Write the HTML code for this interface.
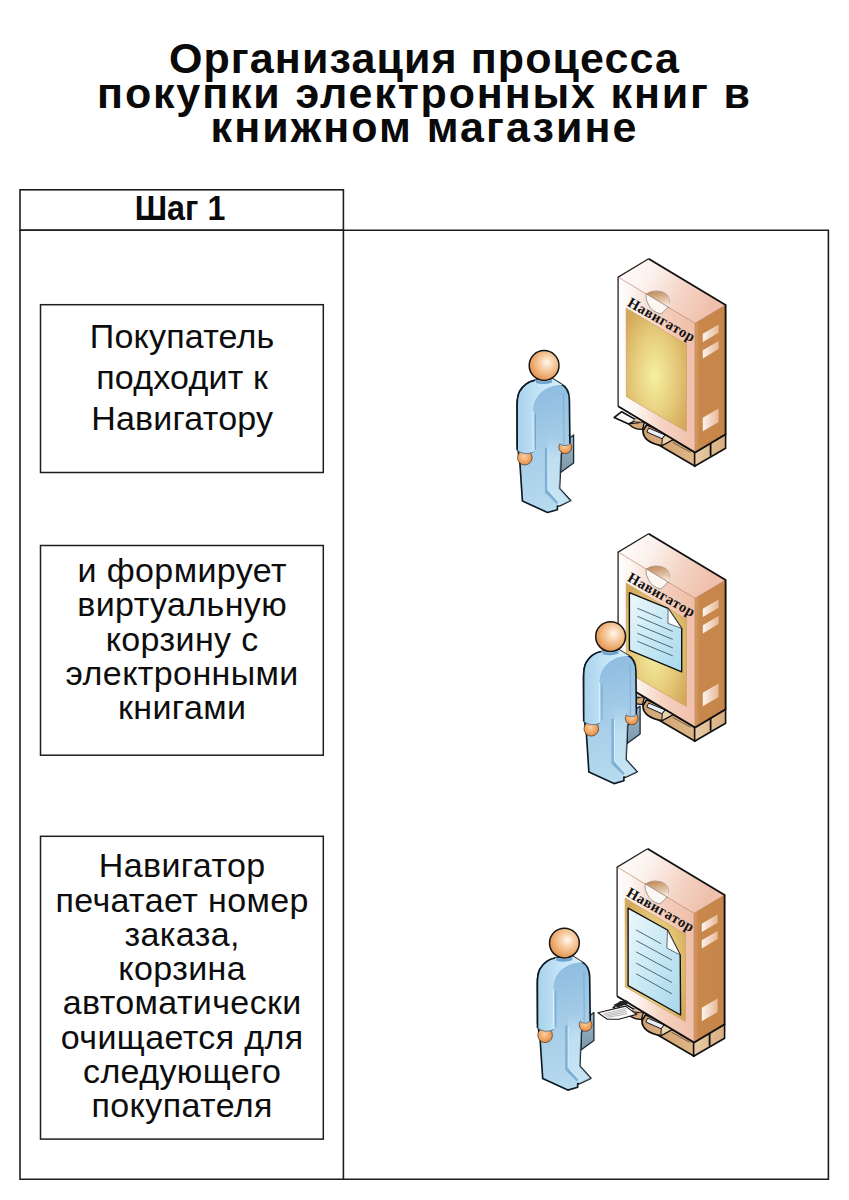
<!DOCTYPE html>
<html><head><meta charset="utf-8">
<style>
html,body{margin:0;padding:0;background:#fff;}
body{width:849px;height:1200px;position:relative;overflow:hidden;font-family:"Liberation Sans",sans-serif;color:#111;}
.t{position:absolute;left:0;width:849px;text-align:center;font-weight:bold;font-size:43px;white-space:nowrap;line-height:34px;height:34px;color:#0a0a0a;}
.bx{position:absolute;left:40.7px;top:0;width:283px;text-align:center;font-size:34px;white-space:nowrap;color:#0d0d0d;}
.bx div{position:absolute;left:0;width:283px;height:34px;line-height:34px;}
svg{position:absolute;left:0;top:0;}
</style></head><body>
<div class="t" style="top:41.4px;letter-spacing:1.1px">Организация процесса</div>
<div class="t" style="top:75.6px;letter-spacing:1.85px">покупки электронных книг в</div>
<div class="t" style="top:109.9px;letter-spacing:2.05px">книжном магазине</div>

<svg width="849" height="1200" viewBox="0 0 849 1200">
<g fill="none" stroke="#1e1e1e">
<rect x="20" y="189.8" width="323.4" height="40.4" stroke-width="1.6"/>
<path d="M20 230.2H828.4V1179.3H20Z M343.4 230.2V1179.3" stroke-width="1.6"/>
<rect x="40.5" y="304.7" width="282.8" height="167.8" stroke-width="1.5"/>
<rect x="40.5" y="545.5" width="282.8" height="209.7" stroke-width="1.5"/>
<rect x="40.5" y="836.3" width="282.8" height="302.8" stroke-width="1.5"/>
</g>
<defs>
<linearGradient id="gTop" x1="0" y1="0" x2="1" y2="0.3"><stop offset="0" stop-color="#ffffff"/><stop offset="0.35" stop-color="#fcf1ec"/><stop offset="0.7" stop-color="#f4d3c4"/><stop offset="1" stop-color="#efc0ab"/></linearGradient>
<linearGradient id="gFront" x1="0" y1="0.55" x2="1" y2="0.45"><stop offset="0" stop-color="#ffffff"/><stop offset="0.22" stop-color="#fdf5f1"/><stop offset="0.55" stop-color="#f5d2c1"/><stop offset="1" stop-color="#efbea8"/></linearGradient>
<linearGradient id="gRight" x1="0" y1="0" x2="1" y2="0"><stop offset="0" stop-color="#d69a60"/><stop offset="0.15" stop-color="#c8884c"/><stop offset="1" stop-color="#c6864a"/></linearGradient>
<linearGradient id="gWin" x1="0" y1="0" x2="1" y2="0"><stop offset="0" stop-color="#fbf4ef"/><stop offset="1" stop-color="#e8b898"/></linearGradient>
<radialGradient id="gScr" cx="0.47" cy="0.55" r="0.62"><stop offset="0" stop-color="#f4f0a0"/><stop offset="0.55" stop-color="#e6cc7c"/><stop offset="1" stop-color="#d5a95c"/></radialGradient>
<linearGradient id="gDoc" x1="0" y1="0" x2="1" y2="1"><stop offset="0" stop-color="#eef8fc"/><stop offset="0.5" stop-color="#c8e8f4"/><stop offset="1" stop-color="#a8d8ec"/></linearGradient>
<linearGradient id="gHandle" x1="0.3" y1="0" x2="0.6" y2="1"><stop offset="0" stop-color="#c08a5c"/><stop offset="0.5" stop-color="#dcb896"/><stop offset="1" stop-color="#f6ebe0"/></linearGradient>
<linearGradient id="gPal" x1="0" y1="0" x2="1" y2="0"><stop offset="0" stop-color="#cfa070"/><stop offset="1" stop-color="#e0b88a"/></linearGradient>
<linearGradient id="gPal2" x1="0" y1="0" x2="1" y2="0"><stop offset="0" stop-color="#e8cca8"/><stop offset="1" stop-color="#d7ad7e"/></linearGradient>
<linearGradient id="gBody" gradientUnits="userSpaceOnUse" x1="-20" y1="14" x2="20" y2="147"><stop offset="0" stop-color="#88b8de"/><stop offset="0.5" stop-color="#a6cde8"/><stop offset="1" stop-color="#b8dcef"/></linearGradient>
<linearGradient id="gArm" gradientUnits="userSpaceOnUse" x1="-27" y1="0" x2="17.5" y2="0"><stop offset="0" stop-color="#a8d2ec"/><stop offset="0.5" stop-color="#c4e4f6"/><stop offset="1" stop-color="#d6eef8"/></linearGradient>
<radialGradient id="gHead" cx="0.6" cy="0.4" r="0.65"><stop offset="0" stop-color="#fff8f0"/><stop offset="0.3" stop-color="#f8d6b2"/><stop offset="0.72" stop-color="#eeab6e"/><stop offset="1" stop-color="#de8c4a"/></radialGradient>
<radialGradient id="gHand" cx="0.45" cy="0.4" r="0.65"><stop offset="0" stop-color="#fbd0a4"/><stop offset="0.6" stop-color="#f0a462"/><stop offset="1" stop-color="#dd8840"/></radialGradient>
<linearGradient id="gFold" x1="0" y1="0" x2="0" y2="1"><stop offset="0" stop-color="#9fb8cc"/><stop offset="1" stop-color="#7c96aa"/></linearGradient>
<linearGradient id="gLeg" x1="0" y1="0" x2="0" y2="1"><stop offset="0" stop-color="#d2ecf8" stop-opacity="0"/><stop offset="0.35" stop-color="#d2ecf8" stop-opacity="0.5"/><stop offset="1" stop-color="#d2ecf8" stop-opacity="0.6"/></linearGradient>
</defs>
<g transform="translate(648.6,258.8)">
<polygon points="8,171 46.5,193.7 46.5,207.5 8,185" fill="url(#gPal)" stroke="#111" stroke-width="1.6" stroke-linejoin="round"/>
<polygon points="46,193.7 77,175.4 77,189.4 46,207.5" fill="url(#gPal2)" stroke="#111" stroke-width="1.6" stroke-linejoin="round"/>
<path d="M62,183.5 V197" stroke="#111" stroke-width="1.8"/>
<path d="M24,183.5 L42,193.5" stroke="#6a5040" stroke-width="0.9"/>
<polygon points="-34.4,158.7 -26.9,152.9 -12.1,161.3 -20,165.1" fill="#fbfbfb" stroke="#111" stroke-width="1.6" stroke-linejoin="round"/>
<path d="M-20,165.1 Q-14,171 -6,170.5 L-4,163 Z" fill="#d9a877" stroke="#111" stroke-width="1.4"/>
<path d="M-16,162 L-10,158 L-6,164 Z" fill="#e8c3a0" stroke="#444" stroke-width="0.6"/>
<path d="M-5.7,171.9 Q-5.5,183.5 13.3,186.8 L23.9,181 L21,176.5 L-2,166 Z" fill="url(#gPal)" stroke="#111" stroke-width="1.7" stroke-linejoin="round"/>
<polygon points="0.1,169.3 16.5,176.2 13.6,180 -1.8,173.2" fill="#e8eef8" stroke="#1a1a1a" stroke-width="1"/>
<polygon points="13.6,180 16.5,176.2 22,178.5 23.9,181 13.3,186.8" fill="#ead2aa" stroke="#111" stroke-width="1"/>
<polygon points="0,0 77,46.2 46.5,64.5 -30.5,18.3" fill="url(#gTop)"/>
<polygon points="-30.5,18.3 46.5,64.5 46.5,193.7 -30.5,147.5" fill="url(#gFront)"/>
<polygon points="46.5,64.5 77,46.2 77,175.4 46.5,193.7" fill="url(#gRight)"/>
<path d="M-30.5,18.3 L46.5,64.5 L77,46.2 M46.5,64.5 V193.7" fill="none" stroke="#b07050" stroke-width="0.7" opacity="0.8"/>
<path d="M-30.5,147.5 V18.3 L0,0" fill="none" stroke="#222" stroke-width="1.3"/>
<path d="M0,0 L77,46.2 V175.4 L46.5,193.7 L-30.5,147.5" fill="none" stroke="#111" stroke-width="1.9" stroke-linejoin="round"/>
<polygon points="54.2,75 70,65.7 70,73.9 54.2,83.2" fill="url(#gWin)"/>
<polygon points="54.2,91.4 70,82.1 70,90.3 54.2,99.6" fill="url(#gWin)"/>
<polygon points="54.2,159 70,149.7 70,163.1 54.2,172.4" fill="url(#gWin)"/>
<polygon points="-22.5,49.2 38,85.6 37.8,172.6 -22.3,138" fill="url(#gScr)" stroke="#c99a5a" stroke-width="0.6"/>
<path d="M-2.6,36.5 Q1,32 8.4,32.2 Q20,33 20.9,41.5 Q20.5,47 18,50 L12.4,55.2 Q3,53 0,46 Q-3,41 -2.6,36.5 Z" fill="#fbf8f4" stroke="#8c8278" stroke-width="0.75"/>
<path d="M-2.3,35 Q1,32.2 8.4,32.4 Q19.8,33 20.7,41.5 L20.6,48.9 Z" fill="url(#gHandle)"/>
<path d="M-3,34.7 L20.9,49" stroke="#857468" stroke-width="0.7"/>
<text x="0" y="0" transform="translate(-22.2,46.6) rotate(29.5)" font-family="Liberation Serif" font-weight="bold" font-size="14.6" fill="#111" letter-spacing="0.5">Навигатор</text>
</g>
<g transform="translate(544.1,365.5)">
<polygon points="16.5,79.5 29.5,69.5 29.5,97.5 16.5,107" fill="url(#gFold)" stroke="#1a2a35" stroke-width="1.3" stroke-linejoin="round"/>
<path d="M-9.4,14.9 C-15,16 -21,20 -24.5,26 C-26.5,30 -27,34 -27,40 L-26.8,80 L-24.2,97.6 L-21.7,135.5 L3.4,147 L13.3,144.2 L13.3,140.5 L15.4,140.5 L26.5,135.1 L15.4,123 L17,89.3 L25.7,68.9 L25.3,34.2 C25.2,27 22,21 17,18.5 L8.4,13.2 Z" fill="url(#gBody)" stroke="#0c1a26" stroke-width="1.65" stroke-linejoin="round"/>
<path d="M19.5,28 L19.8,72" stroke="#7aa8cc" stroke-width="0.8" fill="none"/>
<path d="M3.8,70 L19,70 L17,89.3 L15.4,123 L26.2,135.2 L15.2,140.3 L12.5,138.5 L3.8,126 Z" fill="url(#gLeg)"/>
<path d="M0.8,82.5 L3.8,82.5 L3.8,124.5 L14.5,136.5 L12.5,138.5 L0.8,127 Z" fill="#7fb0d6"/>
<path d="M3.8,83 L3.8,124.5 L14.5,136.5" stroke="#d8f0fa" stroke-width="1" fill="none"/>
<circle cx="-19.3" cy="92.2" r="7.3" fill="url(#gHand)" stroke="#4a3020" stroke-width="0.7"/>
<circle cx="21.2" cy="81.8" r="6.4" fill="url(#gHand)" stroke="#4a3020" stroke-width="0.7"/>
<path d="M-24.5,26 C-21,20 -15,16 -9.4,14.9 L8.4,13.2 L18.5,19.5 C3,19 -11,29 -11,46 L-11,86.5 Q-19,90.5 -26.9,85 L-27,40 C-27,34 -26.5,30 -24.5,26 Z" fill="url(#gArm)"/>
<path d="M-9.4,14.9 C-15,16 -21,20 -24.5,26 C-26.5,30 -27,34 -27,40 L-26.9,85" fill="none" stroke="#0c1a26" stroke-width="1.65" stroke-linejoin="round"/>
<path d="M-26.9,85 Q-19,90.5 -10.5,86.5" fill="none" stroke="#4a6a80" stroke-width="0.8"/>
<path d="M-11,46 L-11,86" stroke="#d6f0fa" stroke-width="1.2" fill="none"/>
<path d="M-8.6,48 L-8.6,84" stroke="#6e9ec4" stroke-width="0.8" fill="none"/>
<path d="M15.8,70 L15.8,78.5 Q21,82 25.8,78 L25.8,70 Z" fill="url(#gBody)"/>
<path d="M15.8,78.5 Q21,82 25.8,78" fill="none" stroke="#4a6a80" stroke-width="0.8"/>
<path d="M25.7,68.9 L25.8,78" fill="none" stroke="#0c1a26" stroke-width="1.65"/>
<path d="M19.8,70 L19.8,79" stroke="#7aa8cc" stroke-width="0.8" fill="none"/>
<circle cx="0" cy="0" r="14.9" fill="url(#gHead)" stroke="#161616" stroke-width="1.5"/>
<path d="M-8.3,14.6 Q0,17.5 8.1,14.2 L7.8,17.2 Q0,19.8 -8,17.6 Z" fill="#6fa2cf"/>
</g>
<g transform="translate(648.6,533.8)">
<polygon points="8,171 46.5,193.7 46.5,207.5 8,185" fill="url(#gPal)" stroke="#111" stroke-width="1.6" stroke-linejoin="round"/>
<polygon points="46,193.7 77,175.4 77,189.4 46,207.5" fill="url(#gPal2)" stroke="#111" stroke-width="1.6" stroke-linejoin="round"/>
<path d="M62,183.5 V197" stroke="#111" stroke-width="1.8"/>
<path d="M24,183.5 L42,193.5" stroke="#6a5040" stroke-width="0.9"/>
<polygon points="-34.4,158.7 -26.9,152.9 -12.1,161.3 -20,165.1" fill="#fbfbfb" stroke="#111" stroke-width="1.6" stroke-linejoin="round"/>
<path d="M-20,165.1 Q-14,171 -6,170.5 L-4,163 Z" fill="#d9a877" stroke="#111" stroke-width="1.4"/>
<path d="M-16,162 L-10,158 L-6,164 Z" fill="#e8c3a0" stroke="#444" stroke-width="0.6"/>
<path d="M-5.7,171.9 Q-5.5,183.5 13.3,186.8 L23.9,181 L21,176.5 L-2,166 Z" fill="url(#gPal)" stroke="#111" stroke-width="1.7" stroke-linejoin="round"/>
<polygon points="0.1,169.3 16.5,176.2 13.6,180 -1.8,173.2" fill="#e8eef8" stroke="#1a1a1a" stroke-width="1"/>
<polygon points="13.6,180 16.5,176.2 22,178.5 23.9,181 13.3,186.8" fill="#ead2aa" stroke="#111" stroke-width="1"/>
<polygon points="0,0 77,46.2 46.5,64.5 -30.5,18.3" fill="url(#gTop)"/>
<polygon points="-30.5,18.3 46.5,64.5 46.5,193.7 -30.5,147.5" fill="url(#gFront)"/>
<polygon points="46.5,64.5 77,46.2 77,175.4 46.5,193.7" fill="url(#gRight)"/>
<path d="M-30.5,18.3 L46.5,64.5 L77,46.2 M46.5,64.5 V193.7" fill="none" stroke="#b07050" stroke-width="0.7" opacity="0.8"/>
<path d="M-30.5,147.5 V18.3 L0,0" fill="none" stroke="#222" stroke-width="1.3"/>
<path d="M0,0 L77,46.2 V175.4 L46.5,193.7 L-30.5,147.5" fill="none" stroke="#111" stroke-width="1.9" stroke-linejoin="round"/>
<polygon points="54.2,75 70,65.7 70,73.9 54.2,83.2" fill="url(#gWin)"/>
<polygon points="54.2,91.4 70,82.1 70,90.3 54.2,99.6" fill="url(#gWin)"/>
<polygon points="54.2,159 70,149.7 70,163.1 54.2,172.4" fill="url(#gWin)"/>
<polygon points="-22.5,49.2 38,85.6 37.8,172.6 -22.3,138" fill="url(#gScr)" stroke="#c99a5a" stroke-width="0.6"/>
<path d="M-19.2,58.9 L19.5,74.5 L33.1,94.7 L33.1,138.1 L-19.2,116.4 Z" fill="url(#gDoc)" stroke="#111" stroke-width="1.4" stroke-linejoin="round"/>
<path d="M19.5,74.5 L19.3,89.5 L33.1,94.7 Z" fill="#fafcfd" stroke="#333" stroke-width="0.7"/>
<path d="M-11.2,74.5 L13.3,84.8" stroke="#3a5a6a" stroke-width="0.9"/>
<path d="M-11.2,82.5 L24.2,97.6" stroke="#3a5a6a" stroke-width="0.9"/>
<path d="M-11.2,91 L24.2,105.6" stroke="#3a5a6a" stroke-width="0.9"/>
<path d="M-11.2,99.5 L24.2,114.1" stroke="#3a5a6a" stroke-width="0.9"/>
<path d="M-11.2,107.5 L24.2,122.1" stroke="#3a5a6a" stroke-width="0.9"/>
<path d="M-2.6,36.5 Q1,32 8.4,32.2 Q20,33 20.9,41.5 Q20.5,47 18,50 L12.4,55.2 Q3,53 0,46 Q-3,41 -2.6,36.5 Z" fill="#fbf8f4" stroke="#8c8278" stroke-width="0.75"/>
<path d="M-2.3,35 Q1,32.2 8.4,32.4 Q19.8,33 20.7,41.5 L20.6,48.9 Z" fill="url(#gHandle)"/>
<path d="M-3,34.7 L20.9,49" stroke="#857468" stroke-width="0.7"/>
<text x="0" y="0" transform="translate(-22.2,46.6) rotate(29.5)" font-family="Liberation Serif" font-weight="bold" font-size="14.6" fill="#111" letter-spacing="0.5">Навигатор</text>
</g>
<g transform="translate(610.6,636.6)">
<polygon points="16.5,79.5 29.5,69.5 29.5,97.5 16.5,107" fill="url(#gFold)" stroke="#1a2a35" stroke-width="1.3" stroke-linejoin="round"/>
<path d="M-9.4,14.9 C-15,16 -21,20 -24.5,26 C-26.5,30 -27,34 -27,40 L-26.8,80 L-24.2,97.6 L-21.7,135.5 L3.4,147 L13.3,144.2 L13.3,140.5 L15.4,140.5 L26.5,135.1 L15.4,123 L17,89.3 L25.7,68.9 L25.3,34.2 C25.2,27 22,21 17,18.5 L8.4,13.2 Z" fill="url(#gBody)" stroke="#0c1a26" stroke-width="1.65" stroke-linejoin="round"/>
<path d="M19.5,28 L19.8,72" stroke="#7aa8cc" stroke-width="0.8" fill="none"/>
<path d="M3.8,70 L19,70 L17,89.3 L15.4,123 L26.2,135.2 L15.2,140.3 L12.5,138.5 L3.8,126 Z" fill="url(#gLeg)"/>
<path d="M0.8,82.5 L3.8,82.5 L3.8,124.5 L14.5,136.5 L12.5,138.5 L0.8,127 Z" fill="#7fb0d6"/>
<path d="M3.8,83 L3.8,124.5 L14.5,136.5" stroke="#d8f0fa" stroke-width="1" fill="none"/>
<circle cx="-19.3" cy="92.2" r="7.3" fill="url(#gHand)" stroke="#4a3020" stroke-width="0.7"/>
<circle cx="21.2" cy="81.8" r="6.4" fill="url(#gHand)" stroke="#4a3020" stroke-width="0.7"/>
<path d="M-24.5,26 C-21,20 -15,16 -9.4,14.9 L8.4,13.2 L18.5,19.5 C3,19 -11,29 -11,46 L-11,86.5 Q-19,90.5 -26.9,85 L-27,40 C-27,34 -26.5,30 -24.5,26 Z" fill="url(#gArm)"/>
<path d="M-9.4,14.9 C-15,16 -21,20 -24.5,26 C-26.5,30 -27,34 -27,40 L-26.9,85" fill="none" stroke="#0c1a26" stroke-width="1.65" stroke-linejoin="round"/>
<path d="M-26.9,85 Q-19,90.5 -10.5,86.5" fill="none" stroke="#4a6a80" stroke-width="0.8"/>
<path d="M-11,46 L-11,86" stroke="#d6f0fa" stroke-width="1.2" fill="none"/>
<path d="M-8.6,48 L-8.6,84" stroke="#6e9ec4" stroke-width="0.8" fill="none"/>
<path d="M15.8,70 L15.8,78.5 Q21,82 25.8,78 L25.8,70 Z" fill="url(#gBody)"/>
<path d="M15.8,78.5 Q21,82 25.8,78" fill="none" stroke="#4a6a80" stroke-width="0.8"/>
<path d="M25.7,68.9 L25.8,78" fill="none" stroke="#0c1a26" stroke-width="1.65"/>
<path d="M19.8,70 L19.8,79" stroke="#7aa8cc" stroke-width="0.8" fill="none"/>
<circle cx="0" cy="0" r="14.9" fill="url(#gHead)" stroke="#161616" stroke-width="1.5"/>
<path d="M-8.3,14.6 Q0,17.5 8.1,14.2 L7.8,17.2 Q0,19.8 -8,17.6 Z" fill="#6fa2cf"/>
</g>
<g transform="translate(647.6,848.8)">
<polygon points="8,171 46.5,193.7 46.5,207.5 8,185" fill="url(#gPal)" stroke="#111" stroke-width="1.6" stroke-linejoin="round"/>
<polygon points="46,193.7 77,175.4 77,189.4 46,207.5" fill="url(#gPal2)" stroke="#111" stroke-width="1.6" stroke-linejoin="round"/>
<path d="M62,183.5 V197" stroke="#111" stroke-width="1.8"/>
<path d="M24,183.5 L42,193.5" stroke="#6a5040" stroke-width="0.9"/>
<polygon points="-34.4,158.7 -26.9,152.9 -12.1,161.3 -20,165.1" fill="#fff" stroke="#111" stroke-width="1.5" stroke-linejoin="round"/>
<path d="M-20,165.1 Q-14,171 -6,170.5 L-4,163 Z" fill="#d9a877" stroke="#111" stroke-width="1.4"/>
<path d="M-16,162 L-10,158 L-6,164 Z" fill="#e8c3a0" stroke="#444" stroke-width="0.6"/>
<path d="M-5.7,171.9 Q-5.5,183.5 13.3,186.8 L23.9,181 L21,176.5 L-2,166 Z" fill="url(#gPal)" stroke="#111" stroke-width="1.7" stroke-linejoin="round"/>
<polygon points="0.1,169.3 16.5,176.2 13.6,180 -1.8,173.2" fill="#e8eef8" stroke="#1a1a1a" stroke-width="1"/>
<polygon points="13.6,180 16.5,176.2 22,178.5 23.9,181 13.3,186.8" fill="#ead2aa" stroke="#111" stroke-width="1"/>
<polygon points="0,0 77,46.2 46.5,64.5 -30.5,18.3" fill="url(#gTop)"/>
<polygon points="-30.5,18.3 46.5,64.5 46.5,193.7 -30.5,147.5" fill="url(#gFront)"/>
<polygon points="46.5,64.5 77,46.2 77,175.4 46.5,193.7" fill="url(#gRight)"/>
<path d="M-30.5,18.3 L46.5,64.5 L77,46.2 M46.5,64.5 V193.7" fill="none" stroke="#b07050" stroke-width="0.7" opacity="0.8"/>
<path d="M-30.5,147.5 V18.3 L0,0" fill="none" stroke="#222" stroke-width="1.3"/>
<path d="M0,0 L77,46.2 V175.4 L46.5,193.7 L-30.5,147.5" fill="none" stroke="#111" stroke-width="1.9" stroke-linejoin="round"/>
<polygon points="54.2,75 70,65.7 70,73.9 54.2,83.2" fill="url(#gWin)"/>
<polygon points="54.2,91.4 70,82.1 70,90.3 54.2,99.6" fill="url(#gWin)"/>
<polygon points="54.2,159 70,149.7 70,163.1 54.2,172.4" fill="url(#gWin)"/>
<polygon points="-22.5,49.2 38,85.6 37.8,172.6 -22.3,138" fill="url(#gScr)" stroke="#c99a5a" stroke-width="0.6"/>
<path d="M-19.5,59.3 L19.9,81.2 L32.6,106.2 L33,166.2 L-19.5,136.8 Z" fill="url(#gDoc)" stroke="#111" stroke-width="1.4" stroke-linejoin="round"/>
<path d="M19.9,81.2 L19.3,99.3 L32.6,106.2 Z" fill="#fafcfd" stroke="#333" stroke-width="0.7"/>
<path d="M-11.4,81.2 L13.6,95" stroke="#3a5a6a" stroke-width="0.9"/>
<path d="M-11.4,91.8 L24.3,111.2" stroke="#3a5a6a" stroke-width="0.9"/>
<path d="M-11.4,103.1 L24.3,122.4" stroke="#3a5a6a" stroke-width="0.9"/>
<path d="M-11.4,114.3 L24.3,133.7" stroke="#3a5a6a" stroke-width="0.9"/>
<path d="M-11.4,125 L24.3,145" stroke="#3a5a6a" stroke-width="0.9"/>
<path d="M-2.6,36.5 Q1,32 8.4,32.2 Q20,33 20.9,41.5 Q20.5,47 18,50 L12.4,55.2 Q3,53 0,46 Q-3,41 -2.6,36.5 Z" fill="#fbf8f4" stroke="#8c8278" stroke-width="0.75"/>
<path d="M-2.3,35 Q1,32.2 8.4,32.4 Q19.8,33 20.7,41.5 L20.6,48.9 Z" fill="url(#gHandle)"/>
<path d="M-3,34.7 L20.9,49" stroke="#857468" stroke-width="0.7"/>
<text x="0" y="0" transform="translate(-22.2,46.6) rotate(29.5)" font-family="Liberation Serif" font-weight="bold" font-size="14.6" fill="#111" letter-spacing="0.5">Навигатор</text>
<path d="M-34,156 L-22,151 L-18,154 L-30,159 Z" fill="#222"/>
<polygon points="-49.7,163.9 -22.1,157.3 -11,165.6 -28.7,170.5 -40.2,170.5" fill="#fbfbfb" stroke="#1a1a1a" stroke-width="1.1" stroke-linejoin="round"/>
<path d="M-44.6,165.4 L-21.6,159.7" stroke="#8a8a8a" stroke-width="0.6"/>
<path d="M-43.0,166.5 L-21.2,161.4" stroke="#8a8a8a" stroke-width="0.6"/>
<path d="M-41.5,167.5 L-20.8,163.1" stroke="#8a8a8a" stroke-width="0.6"/>
<path d="M-39.9,168.6 L-20.4,164.9" stroke="#8a8a8a" stroke-width="0.6"/>
</g>
<g transform="translate(564.4,943.1)">
<polygon points="16.5,79.5 29.5,69.5 29.5,97.5 16.5,107" fill="url(#gFold)" stroke="#1a2a35" stroke-width="1.3" stroke-linejoin="round"/>
<path d="M-9.4,14.9 C-15,16 -21,20 -24.5,26 C-26.5,30 -27,34 -27,40 L-26.8,80 L-24.2,97.6 L-21.7,135.5 L3.4,147 L13.3,144.2 L13.3,140.5 L15.4,140.5 L26.5,135.1 L15.4,123 L17,89.3 L25.7,68.9 L25.3,34.2 C25.2,27 22,21 17,18.5 L8.4,13.2 Z" fill="url(#gBody)" stroke="#0c1a26" stroke-width="1.65" stroke-linejoin="round"/>
<path d="M19.5,28 L19.8,72" stroke="#7aa8cc" stroke-width="0.8" fill="none"/>
<path d="M3.8,70 L19,70 L17,89.3 L15.4,123 L26.2,135.2 L15.2,140.3 L12.5,138.5 L3.8,126 Z" fill="url(#gLeg)"/>
<path d="M0.8,82.5 L3.8,82.5 L3.8,124.5 L14.5,136.5 L12.5,138.5 L0.8,127 Z" fill="#7fb0d6"/>
<path d="M3.8,83 L3.8,124.5 L14.5,136.5" stroke="#d8f0fa" stroke-width="1" fill="none"/>
<circle cx="-19.3" cy="92.2" r="7.3" fill="url(#gHand)" stroke="#4a3020" stroke-width="0.7"/>
<circle cx="21.2" cy="81.8" r="6.4" fill="url(#gHand)" stroke="#4a3020" stroke-width="0.7"/>
<path d="M-24.5,26 C-21,20 -15,16 -9.4,14.9 L8.4,13.2 L18.5,19.5 C3,19 -11,29 -11,46 L-11,86.5 Q-19,90.5 -26.9,85 L-27,40 C-27,34 -26.5,30 -24.5,26 Z" fill="url(#gArm)"/>
<path d="M-9.4,14.9 C-15,16 -21,20 -24.5,26 C-26.5,30 -27,34 -27,40 L-26.9,85" fill="none" stroke="#0c1a26" stroke-width="1.65" stroke-linejoin="round"/>
<path d="M-26.9,85 Q-19,90.5 -10.5,86.5" fill="none" stroke="#4a6a80" stroke-width="0.8"/>
<path d="M-11,46 L-11,86" stroke="#d6f0fa" stroke-width="1.2" fill="none"/>
<path d="M-8.6,48 L-8.6,84" stroke="#6e9ec4" stroke-width="0.8" fill="none"/>
<path d="M15.8,70 L15.8,78.5 Q21,82 25.8,78 L25.8,70 Z" fill="url(#gBody)"/>
<path d="M15.8,78.5 Q21,82 25.8,78" fill="none" stroke="#4a6a80" stroke-width="0.8"/>
<path d="M25.7,68.9 L25.8,78" fill="none" stroke="#0c1a26" stroke-width="1.65"/>
<path d="M19.8,70 L19.8,79" stroke="#7aa8cc" stroke-width="0.8" fill="none"/>
<circle cx="0" cy="0" r="14.9" fill="url(#gHead)" stroke="#161616" stroke-width="1.5"/>
<path d="M-8.3,14.6 Q0,17.5 8.1,14.2 L7.8,17.2 Q0,19.8 -8,17.6 Z" fill="#6fa2cf"/>
</g>
</svg>

<div style="position:absolute;left:17px;top:188.2px;width:323px;height:40px;line-height:40px;text-align:center;font-weight:bold;font-size:35px;transform:scaleX(0.92);transform-origin:180.5px 0;color:#0a0a0a">Шаг 1</div>

<div class="bx" style="letter-spacing:0.2px">
<div style="top:316.1px;line-height:40px;height:40px">Покупатель</div>
<div style="top:357.2px;line-height:40px;height:40px">подходит к</div>
<div style="top:398.2px;line-height:40px;height:40px">Навигатору</div>
</div>

<div class="bx" style="letter-spacing:0.4px">
<div style="top:553.1px;line-height:34px;height:34px">и формирует</div>
<div style="top:587.4px;line-height:34px;height:34px">виртуальную</div>
<div style="top:621.6px;line-height:34px;height:34px">корзину с</div>
<div style="top:655.9px;line-height:34px;height:34px">электронными</div>
<div style="top:690.2px;line-height:34px;height:34px">книгами</div>
</div>

<div class="bx" style="letter-spacing:0.4px">
<div style="top:848.4px;line-height:34px;height:34px">Навигатор</div>
<div style="top:882.6px;line-height:34px;height:34px">печатает номер</div>
<div style="top:916.9px;line-height:34px;height:34px">заказа,</div>
<div style="top:951.1px;line-height:34px;height:34px">корзина</div>
<div style="top:985.3px;line-height:34px;height:34px">автоматически</div>
<div style="top:1019.5px;line-height:34px;height:34px">очищается для</div>
<div style="top:1053.8px;line-height:34px;height:34px">следующего</div>
<div style="top:1088.0px;line-height:34px;height:34px">покупателя</div>
</div>

</body></html>
